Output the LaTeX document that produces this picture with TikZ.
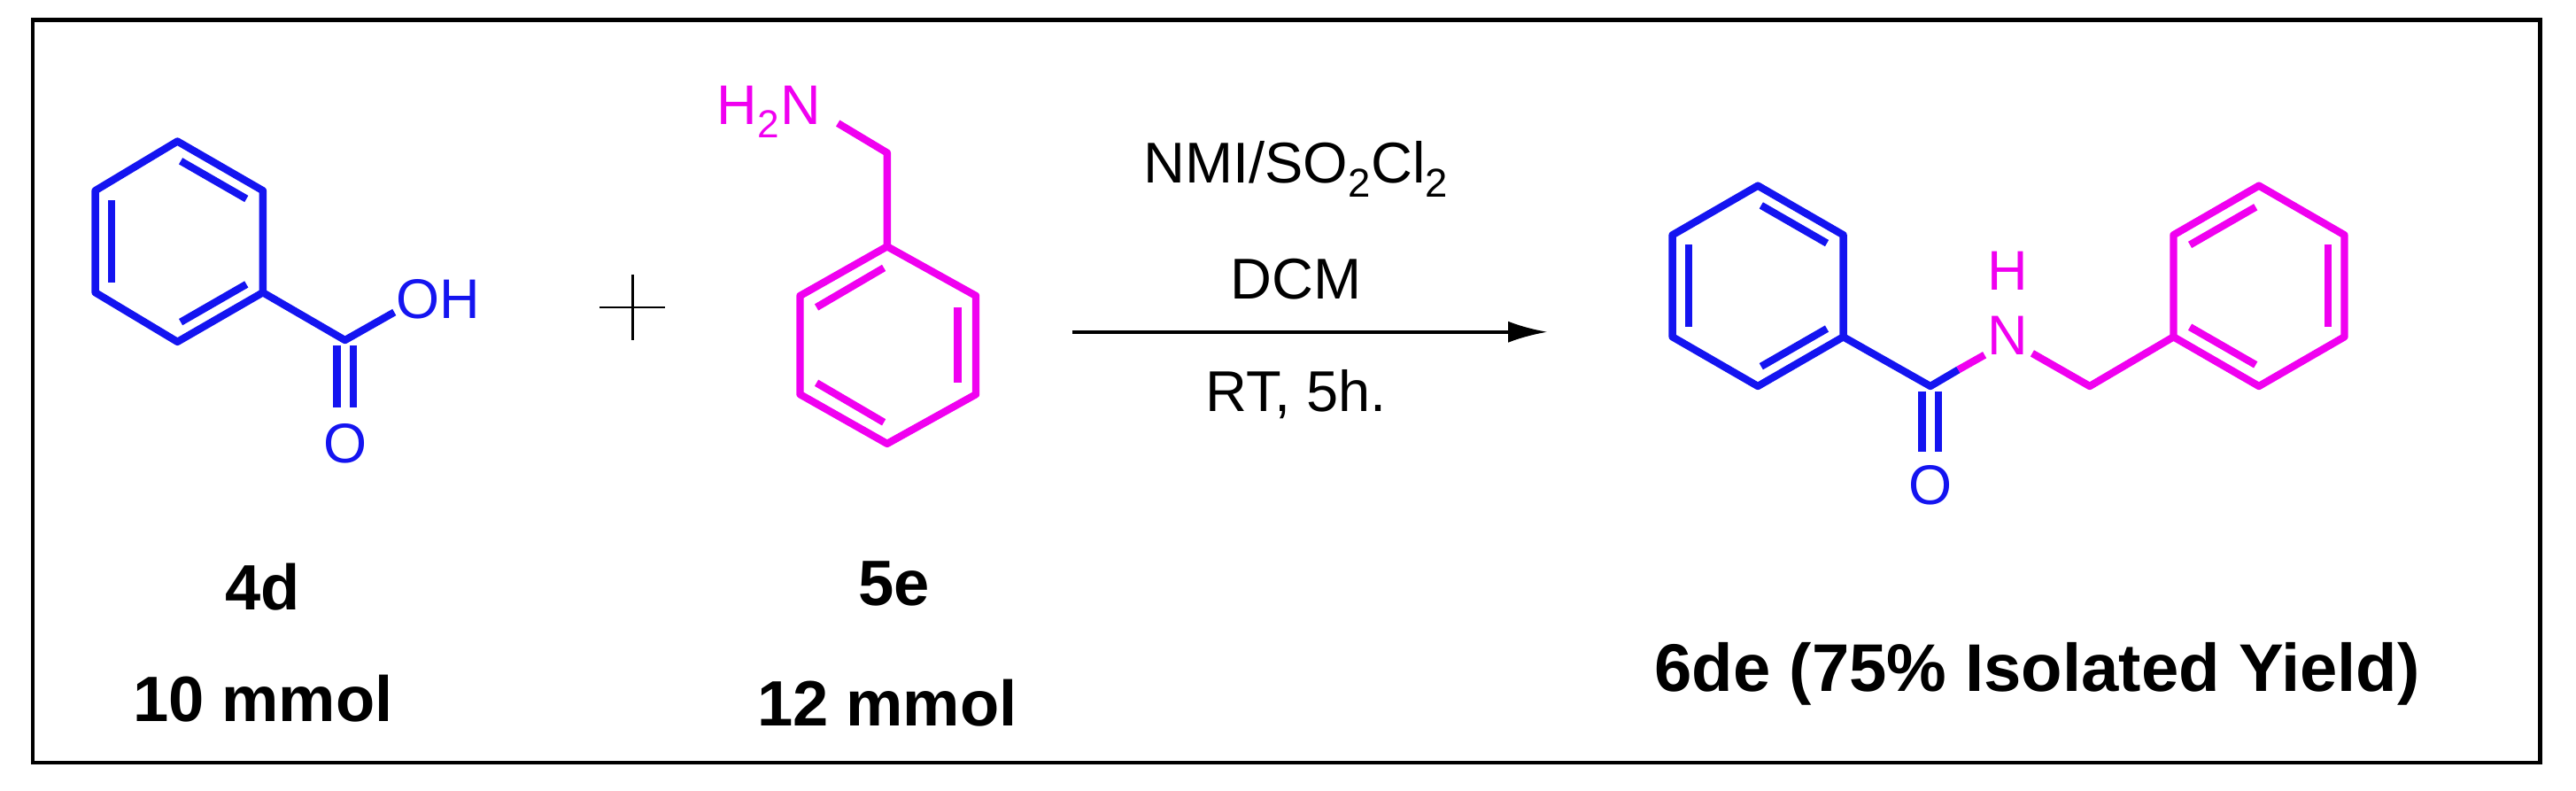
\documentclass[tikz,border=0pt]{standalone}
\usepackage{fontspec}
\usetikzlibrary{arrows.meta}
\setmainfont{Liberation Sans}
\definecolor{bl}{RGB}{20,20,240}
\definecolor{mg}{RGB}{240,0,240}
\begin{document}
\begin{tikzpicture}[x=1pt,y=-1pt,line width=4.5pt,
 lab/.style={font=\fontsize{39}{40}\selectfont\bfseries},
 cond/.style={font=\fontsize{35}{36}\selectfont},
 atom/.style={font=\fontsize{34}{36}\selectfont,inner sep=1pt}]
\useasboundingbox (0,0) rectangle (1568,481);
\draw[line width=2.5pt] (20,12) rectangle (1546,464);
% benzoic acid
\begin{scope}[bl,line join=round]
\coordinate (a1) at (108,86);\coordinate (a2) at (160,116);\coordinate (a3) at (160,178);
\coordinate (a4) at (108,208);\coordinate (a5) at (58,178);\coordinate (a6) at (58,116);
\draw (a1)--(a2)--(a3)--(a4)--(a5)--(a6)--cycle;
\draw (110,98)--(150,121);\draw (68,122)--(68,172);\draw (110,196)--(150,173);
\coordinate (c1) at (210,207);
\draw (a3)--(c1)--(240,190);
\node[atom,anchor=west] (oh) at (238,182) {OH};
\draw (205,210)--(205,248);\draw (215,210)--(215,248);
\node[atom] (o1) at (210,270) {O};
\end{scope}
\draw[line width=1.5pt] (365,187)--(405,187) (385,167)--(385,207);
% benzylamine
\begin{scope}[mg,line join=round]
\node[atom] (nh2) at (468,68) {H\textsubscript{2}N};
\coordinate (ch) at (540,93);
\draw (510,75)--(ch)--(540,150);
\coordinate (b1) at (540,150);\coordinate (b2) at (594,180);\coordinate (b3) at (594,240);
\coordinate (b4) at (540,270);\coordinate (b5) at (487,240);\coordinate (b6) at (487,180);
\draw (b1)--(b2)--(b3)--(b4)--(b5)--(b6)--cycle;
\draw (497,187)--(538,163);\draw (583,187)--(583,233);\draw (497,233)--(538,257);
\end{scope}
% arrow
\coordinate (s) at (653,202);\coordinate (e) at (942,202);
\draw[line width=2pt,-{Latex[length=24pt,width=13pt]}] (s)--(e);
\node[cond] (r1) at (789,103) {NMI/SO\textsubscript{2}Cl\textsubscript{2}};
\node[cond] (r2) at (789,170) {DCM};
\node[cond] (r3) at (789,240) {RT, 5h.};
% product
\begin{scope}[bl,line join=round]
\coordinate (p1) at (1070,113);\coordinate (p2) at (1122,143);\coordinate (p3) at (1122,205);
\coordinate (p4) at (1070,235);\coordinate (p5) at (1018,205);\coordinate (p6) at (1018,143);
\draw (p1)--(p2)--(p3)--(p4)--(p5)--(p6)--cycle;
\draw (1072,125)--(1112,148);\draw (1028,149)--(1028,199);\draw (1072,223)--(1112,200);
\coordinate (pc) at (1175,235);
\draw (p3)--(pc)--(1192,225);
\draw (1170,238)--(1170,275);\draw (1180,238)--(1180,275);
\node[atom] (o2) at (1175,295) {O};
\end{scope}
\begin{scope}[mg,line join=round]
\draw (1192,225)--(1208,216);
\node[atom] (n) at (1222,204) {N};
\node[atom] (h) at (1222,165) {H};
\coordinate (c2) at (1272,235);
\coordinate (q1) at (1323,205);\coordinate (q2) at (1323,143);\coordinate (q3) at (1375,113);
\coordinate (q4) at (1427,143);\coordinate (q5) at (1427,205);\coordinate (q6) at (1375,235);
\draw (1237,215)--(c2)--(q1);
\draw (q1)--(q2)--(q3)--(q4)--(q5)--(q6)--cycle;
\draw (1333,149)--(1373,126);\draw (1417,149)--(1417,199);\draw (1333,199)--(1373,222);
\end{scope}
\node[lab] (l1) at (160,357) {4d};
\node[lab] (l2) at (160,425) {10 mmol};
\node[lab] (l3) at (544,355) {5e};
\node[lab] (l4) at (540,428) {12 mmol};
\node[lab,font=\fontsize{41}{42}\selectfont\bfseries] (l5) at (1240,410) {6de (75\% Isolated Yield)};
\end{tikzpicture}
\end{document}
